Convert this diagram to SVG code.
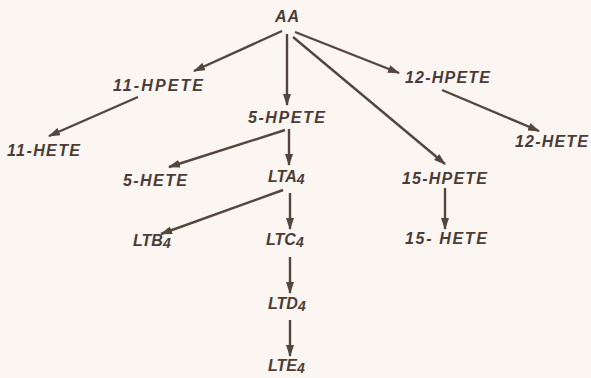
<svg xmlns="http://www.w3.org/2000/svg" width="591" height="378" viewBox="0 0 591 378">
<style>
text{font-family:"Liberation Sans",Arial,sans-serif;font-weight:bold;font-style:italic;font-size:16px;fill:#4a3c37;}
.sub{font-size:14px;}
.c line{stroke:#54453f;stroke-width:2.4;fill:none;marker-end:url(#ah);}
</style>
<defs>
<marker id="ah" viewBox="0 0 12 8" refX="11" refY="4" markerWidth="12" markerHeight="8" markerUnits="userSpaceOnUse" orient="auto">
<path d="M0,0 L12,4 L0,8 Z" fill="#54453f"/>
</marker>
</defs>
<rect width="591" height="378" fill="#fbf6f2"/>
<g class="c" id="connectors">
<line x1="282" y1="31" x2="194" y2="71"/>
<line x1="287" y1="34" x2="287" y2="105"/>
<line x1="295" y1="32" x2="399" y2="73"/>
<line x1="293" y1="37" x2="445" y2="164"/>
<line x1="138" y1="97" x2="49" y2="136"/>
<line x1="285" y1="130" x2="169" y2="167"/>
<line x1="289" y1="129" x2="289" y2="165"/>
<line x1="442" y1="90" x2="539" y2="131"/>
<line x1="445" y1="188" x2="445" y2="229"/>
<line x1="283" y1="190" x2="161" y2="234"/>
<line x1="290" y1="193" x2="290" y2="229"/>
<line x1="290" y1="257" x2="290" y2="293"/>
<line x1="290" y1="320" x2="290" y2="356"/>
</g>
<g id="AA"><text x="275" y="22" textLength="24">AA</text></g>
<g id="HPETE11"><text x="113" y="91" textLength="90">11-HPETE</text></g>
<g id="HETE11"><text x="7" y="156" textLength="73">11-HETE</text></g>
<g id="HPETE5"><text x="248" y="123" textLength="77">5-HPETE</text></g>
<g id="HETE5"><text x="123" y="186" textLength="64">5-HETE</text></g>
<g id="LTA4"><text x="268" y="182">LTA<tspan class="sub" dy="2">4</tspan></text></g>
<g id="LTB4"><text x="133" y="246">LTB<tspan class="sub" dy="2">4</tspan></text></g>
<g id="LTC4"><text x="266" y="245">LTC<tspan class="sub" dy="2">4</tspan></text></g>
<g id="LTD4"><text x="268" y="309">LTD<tspan class="sub" dy="2">4</tspan></text></g>
<g id="LTE4"><text x="268" y="371">LTE<tspan class="sub" dy="2">4</tspan></text></g>
<g id="HPETE12"><text x="405" y="83" textLength="85">12-HPETE</text></g>
<g id="HETE12"><text x="515" y="147" textLength="73">12-HETE</text></g>
<g id="HPETE15"><text x="402" y="184" textLength="85">15-HPETE</text></g>
<g id="HETE15"><text x="405" y="244" textLength="82">15- HETE</text></g>
</svg>
